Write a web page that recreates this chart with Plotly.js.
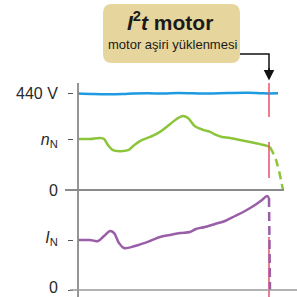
<!DOCTYPE html>
<html>
<head>
<meta charset="utf-8">
<script src="https://cdn.plot.ly/plotly-3.0.1.min.js"></script>
<style>html,body{margin:0;padding:0;background:#fff;}#chart{width:297px;height:297px;}</style>
</head>
<body>
<div id="chart"></div>
<script>
// ---- data (time units, normalized values) ----
var voltT = [0, 15, 30, 45, 55, 70, 85, 100, 115, 130, 150, 170, 185, 200];
var voltV = [1.89, 1.88, 1.875, 1.88, 1.89, 1.895, 1.89, 1.9, 1.895, 1.89, 1.9, 1.905, 1.895, 1.895];

var speedT = [0, 12, 22, 26, 30, 35, 42, 50, 55, 62, 72, 82, 92, 100, 105, 110, 117, 125, 132, 138, 144, 152, 162, 172, 182, 190, 192];
var speedV = [1.0, 1.0, 1.02, 1.0, 0.88, 0.78, 0.76, 0.78, 0.86, 0.96, 1.04, 1.14, 1.29, 1.41, 1.45, 1.41, 1.25, 1.18, 1.14, 1.08, 1.04, 1.02, 0.98, 0.94, 0.90, 0.86, 0.84];
var speedStopT = [192, 198, 205];
var speedStopV = [0.84, 0.59, 0];

var currT = [0, 12, 20, 26, 32, 36, 41, 46, 57, 72, 82, 92, 102, 112, 118, 127, 137, 147, 157, 167, 177, 184, 189, 191];
var currV = [1.0, 1.0, 0.98, 1.08, 1.18, 1.14, 0.94, 0.84, 0.88, 0.98, 1.06, 1.10, 1.14, 1.16, 1.22, 1.26, 1.32, 1.38, 1.48, 1.58, 1.70, 1.80, 1.88, 1.84];
var currStopT = [191, 192];
var currStopV = [1.84, 0];

var tripTime = 191;
var tripTopSegA = [2.1, 1.43];
var tripTopSegB = [0.94, 0.235];
var tripBotSeg = [1.06, -0.14];

var topTickVals = [0, 1, 1.893];
var topTickText = ['0', '<i>n</i><sub>N</sub>', '440 V'];
var botTickVals = [0, 1];
var botTickText = ['0', '<i>I</i><sub>N</sub>'];

// ---- layout helpers (pixel -> paper) ----
var W = 297, H = 297, ML = 73, MT = 83, MB = 0, MR = 0;
var PW = W - ML - MR, PH = H - MT - MB;
function px(x) { return (x - ML) / PW; }
function py(y) { return (H - MB - y) / PH; }

var topRange = [0, 2.098];
var botRange = [-0.14, 2.0];
var xRange = [0, 219];

var blue = '#1e9be0', green = '#8cc43a', purple = '#9a5ea8', red = '#e8506a', gray = '#8a8a8a';

var traces = [
  {x: voltT, y: voltV, xaxis: 'x', yaxis: 'y', mode: 'lines', line: {color: blue, width: 2.5, shape: 'spline'}},
  {x: speedT, y: speedV, xaxis: 'x', yaxis: 'y', mode: 'lines', line: {color: green, width: 2.5, shape: 'spline'}},
  {x: speedStopT, y: speedStopV, xaxis: 'x', yaxis: 'y', mode: 'lines', line: {color: green, width: 2.5, dash: '8px,5px', shape: 'spline'}},
  {x: [tripTime, tripTime], y: tripTopSegA, xaxis: 'x', yaxis: 'y', mode: 'lines', line: {color: red, width: 1.5}},
  {x: [tripTime, tripTime], y: tripTopSegB, xaxis: 'x', yaxis: 'y', mode: 'lines', line: {color: red, width: 1.5}},
  {x: [tripTime, tripTime], y: tripBotSeg, xaxis: 'x', yaxis: 'y2', mode: 'lines', line: {color: red, width: 1.5}},
  {x: currT, y: currV, xaxis: 'x', yaxis: 'y2', mode: 'lines', line: {color: purple, width: 2.5, shape: 'spline'}},
  {x: currStopT, y: currStopV, xaxis: 'x', yaxis: 'y2', mode: 'lines', line: {color: purple, width: 2.5, dash: '9px,5px'}}
];

var boxL = 103, boxR = 240, boxT = 4, boxB = 63, rad = 9;
var rx = rad / PW, ry = rad / PH;
var bl = px(boxL), br = px(boxR), bt = py(boxT), bb = py(boxB);
var boxPath = 'M ' + (bl + rx) + ' ' + bt +
  ' L ' + (br - rx) + ' ' + bt + ' Q ' + br + ' ' + bt + ' ' + br + ' ' + (bt - ry) +
  ' L ' + br + ' ' + (bb + ry) + ' Q ' + br + ' ' + bb + ' ' + (br - rx) + ' ' + bb +
  ' L ' + (bl + rx) + ' ' + bb + ' Q ' + bl + ' ' + bb + ' ' + bl + ' ' + (bb + ry) +
  ' L ' + bl + ' ' + (bt - ry) + ' Q ' + bl + ' ' + bt + ' ' + (bl + rx) + ' ' + bt + ' Z';

function yPaperZero(range, dom) { return dom[0] + (0 - range[0]) / (range[1] - range[0]) * (dom[1] - dom[0]); }
var topDom = [0.5, 1], botDom = [0, 0.5];

var tickFont = {family: 'Liberation Sans, Arial, sans-serif', size: 16, color: '#2a2a2a'};

var layout = {
  width: W, height: H,
  margin: {l: ML, r: MR, t: MT, b: MB, pad: 0},
  paper_bgcolor: '#fff', plot_bgcolor: '#fff',
  showlegend: false,
  xaxis: {domain: [px(78), 1], range: xRange, visible: false, fixedrange: true},
  yaxis: {domain: topDom, range: topRange, anchor: 'free', position: 0, showgrid: false, zeroline: false, showline: false,
          ticks: 'outside', ticklen: 5, tickwidth: 1, tickcolor: '#555', tickvals: topTickVals, ticktext: topTickText,
          tickfont: tickFont, ticklabelstandoff: 7, ticklabeloverflow: 'allow'},
  yaxis2: {domain: botDom, range: botRange, anchor: 'free', position: 0, showgrid: false, zeroline: false, showline: false,
           ticks: 'outside', ticklen: 5, tickwidth: 1, tickcolor: '#555', tickvals: botTickVals, ticktext: botTickText,
           tickfont: tickFont, ticklabelstandoff: 7, ticklabelshift: -3, ticklabeloverflow: 'allow'},
  shapes: [
    {type: 'path', xref: 'paper', yref: 'paper', path: boxPath, fillcolor: '#e6d59c', line: {width: 0}, layer: 'below'},
    {type: 'line', xref: 'paper', yref: 'paper', x0: px(78), x1: px(78), y0: py(83), y1: py(297), line: {color: gray, width: 1.8}},
    {type: 'line', xref: 'paper', yref: 'paper', x0: px(65), x1: px(284), y0: yPaperZero(topRange, topDom), y1: yPaperZero(topRange, topDom), line: {color: gray, width: 2}},
    {type: 'line', xref: 'paper', yref: 'paper', x0: px(70), x1: px(297), y0: yPaperZero(botRange, botDom), y1: yPaperZero(botRange, botDom), line: {color: '#9a9a9a', width: 1.5}},
    {type: 'path', xref: 'paper', yref: 'paper', path: 'M ' + px(240) + ' ' + py(54) + ' L ' + px(269) + ' ' + py(54) + ' L ' + px(269) + ' ' + py(70), line: {color: '#111', width: 1.5}}
  ],
  annotations: [
    {xref: 'paper', yref: 'paper', x: px(269), y: py(80.5), ax: 0, ay: -14, axref: 'pixel', ayref: 'pixel', showarrow: true, arrowhead: 2, arrowsize: 1.4, arrowwidth: 1.5, arrowcolor: '#111', text: ''},
    {xref: 'paper', yref: 'paper', x: px(170), y: py(21), xanchor: 'center', yanchor: 'middle', showarrow: false,
     text: '<b><i>I</i><sup>2</sup><i>t</i> motor</b>', font: {family: 'Liberation Sans, Arial, sans-serif', size: 21, color: '#1a1a1a'}},
    {xref: 'paper', yref: 'paper', x: px(172), y: py(44), xanchor: 'center', yanchor: 'middle', showarrow: false,
     text: 'motor aşiri yüklenmesi', font: {family: 'Liberation Sans Narrow, Liberation Sans, Arial, sans-serif', size: 13, color: '#1a1a1a'}}
  ]
};

Plotly.newPlot('chart', traces, layout, {displayModeBar: false, staticPlot: true});
</script>
</body>
</html>
